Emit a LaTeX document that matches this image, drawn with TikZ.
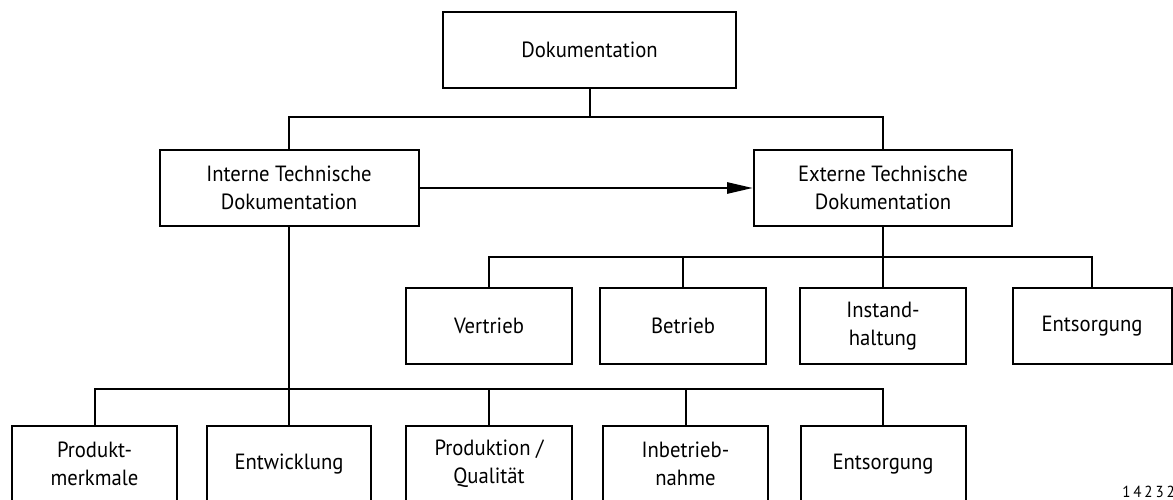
\documentclass[tikz,border=0pt]{standalone}
\usepackage{fontspec}
\setmainfont{PT Sans}[FakeStretch=0.94]
\usetikzlibrary{arrows.meta}
\begin{document}
\begin{tikzpicture}[x=1pt,y=-1pt,
  box/.style={draw,line width=2pt,minimum height=76pt,inner sep=0pt,
    align=center,font=\fontsize{22}{28}\selectfont},
  wire/.style={line width=2pt},
  flow/.style={line width=2.8pt,-{Triangle[length=26pt,width=11pt]}}]
\useasboundingbox (0,0) rectangle (1173,500);
\clip (0,0) rectangle (1173,500);

% top level
\node[box,minimum width=293pt] (doc) at (589.5,50) {Dokumentation};

% second level
\node[box,minimum width=259pt] (int) at (289,188) {Interne Technische\\Dokumentation};
\node[box,minimum width=258pt] (ext) at (883,188) {Externe Technische\\Dokumentation};

% external branch
\node[box,minimum width=166pt] (vert) at (489,326) {Vertrieb};
\node[box,minimum width=166pt] (betr) at (683,326) {Betrieb};
\node[box,minimum width=166pt] (inst) at (883,326) {Instand-\\haltung};
\node[box,minimum width=159pt] (entsE) at (1092,326) {Entsorgung};

% internal branch
\node[box,minimum width=165pt] (prod) at (94.5,464) {Produkt-\\merkmale};
\node[box,minimum width=164pt] (entw) at (289,464) {Entwicklung};
\node[box,minimum width=166pt] (qual) at (489,464) {Produktion /\\Qualität};
\node[box,minimum width=165pt] (inbe) at (685.5,464) {Inbetrieb-\\nahme};
\node[box,minimum width=165pt] (entsI) at (883,464) {Entsorgung};

% junction points of the buses
\coordinate (jTop) at (589.5,117);
\coordinate (jExt) at (883,257);
\coordinate (jInt) at (289,389);

% connectors
\draw[wire] (doc.south) -- (jTop);
\draw[wire] (int.north) |- (jTop) -| (ext.north);
\draw[flow] (int.east) -- (ext.west);

\draw[wire] (ext.south) -- (inst.north);
\draw[wire] (vert.north) |- (jExt) -| (entsE.north);
\draw[wire] (betr.north) -- (betr.north |- jExt);

\draw[wire] (int.south) -- (entw.north);
\draw[wire] (prod.north) |- (jInt) -| (entsI.north);
\draw[wire] (qual.north) -- (qual.north |- jInt);
\draw[wire] (inbe.north) -- (inbe.north |- jInt);

% figure number
\node[anchor=base east,inner sep=0pt,font=\fontsize{16}{16}\selectfont] (fignum) at (1175,497)
  {\addfontfeatures{LetterSpace=18}14232};
\end{tikzpicture}
\end{document}
